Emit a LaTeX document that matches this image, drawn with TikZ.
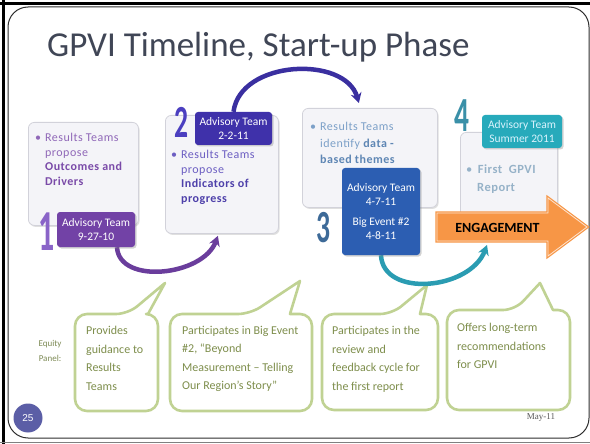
\documentclass[tikz,border=0pt]{standalone}
\usepackage{fontspec}
\setmainfont{Carlito}
\newfontfamily\serifff{Liberation Serif}
\newfontfamily\sansff{Liberation Sans}
\newfontfamily\boxff[LetterSpace=4]{Carlito}
\usepackage{graphicx}
\usetikzlibrary{arrows.meta,calc,shadows}
\pgfdeclarelayer{bg}
\pgfdeclarelayer{mid}
\pgfsetlayers{bg,mid,main}
\definecolor{titlecol}{HTML}{404656}
\definecolor{framecol}{HTML}{2E2E2E}
\definecolor{boxfill}{HTML}{F4F4F8}
\definecolor{boxline}{HTML}{D2D2DA}
\definecolor{advA}{HTML}{7242A6}
\definecolor{advB}{HTML}{3F31AA}
\definecolor{advC}{HTML}{2C5EB2}
\definecolor{advD}{HTML}{27AABB}
\definecolor{numA}{HTML}{8A64C8}
\definecolor{numB}{HTML}{4B3FC0}
\definecolor{numC}{HTML}{3D6A98}
\definecolor{numD}{HTML}{3A90A8}
\definecolor{txtA}{HTML}{9068B8}
\definecolor{txtAb}{HTML}{7A4AA8}
\definecolor{txtB}{HTML}{6C5EC2}
\definecolor{txtBb}{HTML}{4E40AA}
\definecolor{txtC}{HTML}{7CA0C8}
\definecolor{txtCb}{HTML}{5E86B4}
\definecolor{txtD}{HTML}{96B2C8}
\definecolor{arcA}{HTML}{6A3D9C}
\definecolor{arcB}{HTML}{3A2FA0}
\definecolor{arcC}{HTML}{2A9CB2}
\definecolor{engorange}{HTML}{F79646}
\definecolor{englight}{HTML}{FDE3CF}
\definecolor{calloutline}{HTML}{C0D293}
\definecolor{callouttextcol}{HTML}{7E8E4C}
\definecolor{pagecirc}{HTML}{5B5EA6}
\newcommand\mycallout[8]{%
  \draw[calloutpath] (#5,#2) -- (#7,#8) -- (#6,#2) [rounded corners=12pt] -- (#3,#2) -- (#3,#4) -- (#1,#4) -- (#1,#2) -- cycle;}
\begin{document}
\begin{tikzpicture}[x=1pt,y=-1pt,
  stagebox/.style={draw=boxline, fill=boxfill, rounded corners=6pt, line width=0.8pt,
    drop shadow={shadow xshift=1.2pt,shadow yshift=-1.5pt,opacity=0.25}, anchor=north west, inner sep=0},
  advbox/.style={rounded corners=3pt, text=white, align=center, inner sep=0,
    font=\fontsize{11.5}{14}\selectfont,
    drop shadow={shadow xshift=1.5pt,shadow yshift=-1.5pt,opacity=0.35}},
  boxtext/.style={align=left, inner sep=0, anchor=north west, font=\boxff\fontsize{12}{14.5}\selectfont},
  calloutpath/.style={draw=calloutline, fill=white, line width=2.6pt, line join=round},
  callouttext/.style={align=left, inner sep=0, anchor=north west, text=callouttextcol,
    font=\fontsize{12}{18.5}\selectfont},
  numtxt/.style={inner sep=0},
  arcline/.style={line width=4.5pt, -{Stealth[length=10pt,width=11pt]}},
  engline/.style={fill=engorange, draw=engorange, double=englight, double distance=0.8pt,
    line width=1.2pt, line join=miter}
]
\useasboundingbox (0,0) rectangle (590,444);
\begin{pgfonlayer}{bg}
  \fill[white] (0,0) rectangle (590,444);
  % slide frame
  \draw[black, line width=3pt] (0,3.5) -- (590,3.5);
  \draw[black, line width=3pt] (3.5,0) -- (3.5,444);
  \draw[gray, line width=1pt] (0,442) -- (590,442);
  \draw[framecol, line width=1pt, rounded corners=20pt] (8,7) rectangle (589,438);
  % title
  \node[anchor=base west, inner sep=0, text=titlecol, font=\fontsize{35}{38}\selectfont] (title) at (47,57) {GPVI Timeline, Start-up Phase};
  % stage boxes
  \node[stagebox, minimum width=110pt, minimum height=103pt] (box1) at (28,122) {};
  \node[stagebox, minimum width=113pt, minimum height=118pt] (box2) at (165,115) {};
  \node[stagebox, minimum width=135pt, minimum height=99pt] (box3) at (302,108) {};
  \node[stagebox, minimum width=97pt, minimum height=88pt] (box4) at (460,132) {};
  \node[boxtext, text=txtA] (t1) at (35,133) {\textbullet\hspace{4pt}Results Teams\\\hspace*{10pt}propose\\\hspace*{10pt}\textcolor{txtAb}{\textbf{Outcomes and}}\\\hspace*{10pt}\textcolor{txtAb}{\textbf{Drivers}}};
  \node[boxtext, text=txtB] (t2) at (171,150) {\textbullet\hspace{4pt}Results Teams\\\hspace*{10pt}propose\\\hspace*{10pt}\textcolor{txtBb}{\textbf{Indicators of}}\\\hspace*{10pt}\textcolor{txtBb}{\textbf{progress}}};
  \node[boxtext, text=txtC, font=\boxff\fontsize{12}{16.5}\selectfont] (t3) at (310,122) {\textbullet\hspace{4pt}Results Teams\\\hspace*{10pt}identify \textcolor{txtCb}{\textbf{data -}}\\\hspace*{10pt}\textcolor{txtCb}{\textbf{based themes}}};
  \node[boxtext, text=txtD, font=\boxff\fontsize{12.5}{18}\selectfont] (t4) at (466,165) {\textbullet\hspace{5pt}\textbf{First\ \ GPVI}\\\hspace*{11pt}\textbf{Report}};
  % callouts
  \mycallout{75}{314}{158}{411}{128}{148}{165}{283}
  \mycallout{170}{314}{312}{411}{250}{290}{300}{281}
  \mycallout{322}{314}{438}{410}{392}{420}{427}{285}
  \mycallout{447}{310}{570}{410}{515}{553}{540}{283}
  \node[callouttext] (c1) at (86,326) {Provides\\guidance to\\Results\\Teams};
  \node[callouttext] (c2) at (182,326) {Participates in Big Event\\\#2, ``Beyond\\Measurement -- Telling\\Our Region's Story''};
  \node[callouttext] (c3) at (332,326) {Participates in the\\review and\\feedback cycle for\\the first report};
  \node[callouttext] (c4) at (457,323) {Offers long-term\\recommendations\\for GPVI};
  \node[align=center, inner sep=0, text=callouttextcol!80!gray, font=\fontsize{9}{15}\selectfont] (panel) at (50,351) {Equity\\Panel:};
  % footer
  \node[circle, fill=pagecirc, minimum size=29pt, inner sep=0, text=white, font=\sansff\fontsize{10}{12}\selectfont] (page) at (28,418) {25};
  \node[inner sep=0, text=black!65, font=\serifff\fontsize{9}{10}\selectfont] (date) at (541,417) {May-11};
\end{pgfonlayer}
% advisory team labels
\node[advbox, fill=advA, minimum width=78pt, minimum height=35pt] (lab1) at (96,229.5) {Advisory Team\\9-27-10};
\node[advbox, fill=advB, minimum width=77pt, minimum height=33pt] (lab2) at (233.5,128.5) {Advisory Team\\2-2-11};
\node[advbox, fill=advC, minimum width=78pt, minimum height=87pt, font=\fontsize{11.5}{14.5}\selectfont] (lab3) at (381,211.5) {Advisory Team\\4-7-11\\[5pt]Big Event \#2\\4-8-11};
\node[advbox, fill=advD, minimum width=80pt, minimum height=33pt, text=white!85!cyan] (lab4) at (522,131.5) {Advisory Team\\Summer 2011};
% big numbers
\node[numtxt, text=numA] (n1) at (47,232) {\scalebox{0.55}[1]{\fontsize{58}{58}\selectfont\bfseries 1}};
\node[numtxt, text=numB] (n2) at (181,122) {\scalebox{0.6}[1]{\fontsize{46}{46}\selectfont\bfseries 2}};
\node[numtxt, text=numC] (n3) at (323,228) {\scalebox{0.6}[1]{\fontsize{46}{46}\selectfont\bfseries 3}};
\node[numtxt, text=numD] (n4) at (462,116) {\scalebox{0.6}[1]{\fontsize{49}{49}\selectfont\bfseries 4}};
% curved arrows
\coordinate (a3end) at (487,245);
\begin{pgfonlayer}{mid}
  \draw[arcline, draw=arcA] ($(lab1.south)+(21,0)$) .. controls (119,285) and (203,276) .. ($(box2.south)+(-4,2)$);
  \draw[arcline, draw=arcB] (lab2.north) .. controls (240,60) and (345,55) .. ($(box3.north)+(-11,-5)$);
  \draw[arcline, draw=arcC] (lab3.south) .. controls (383,298) and (470,290) .. (a3end);
\end{pgfonlayer}
% engagement arrow
\draw[engline] (437,213) -- (548,213) -- (548,198) -- (587,227) -- (548,256) -- (548,241) -- (437,241) -- cycle;
\node[inner sep=0, font=\bfseries\fontsize{14}{14}\selectfont] (eng) at (497.5,227.5) {ENGAGEMENT};
\end{tikzpicture}
\end{document}
